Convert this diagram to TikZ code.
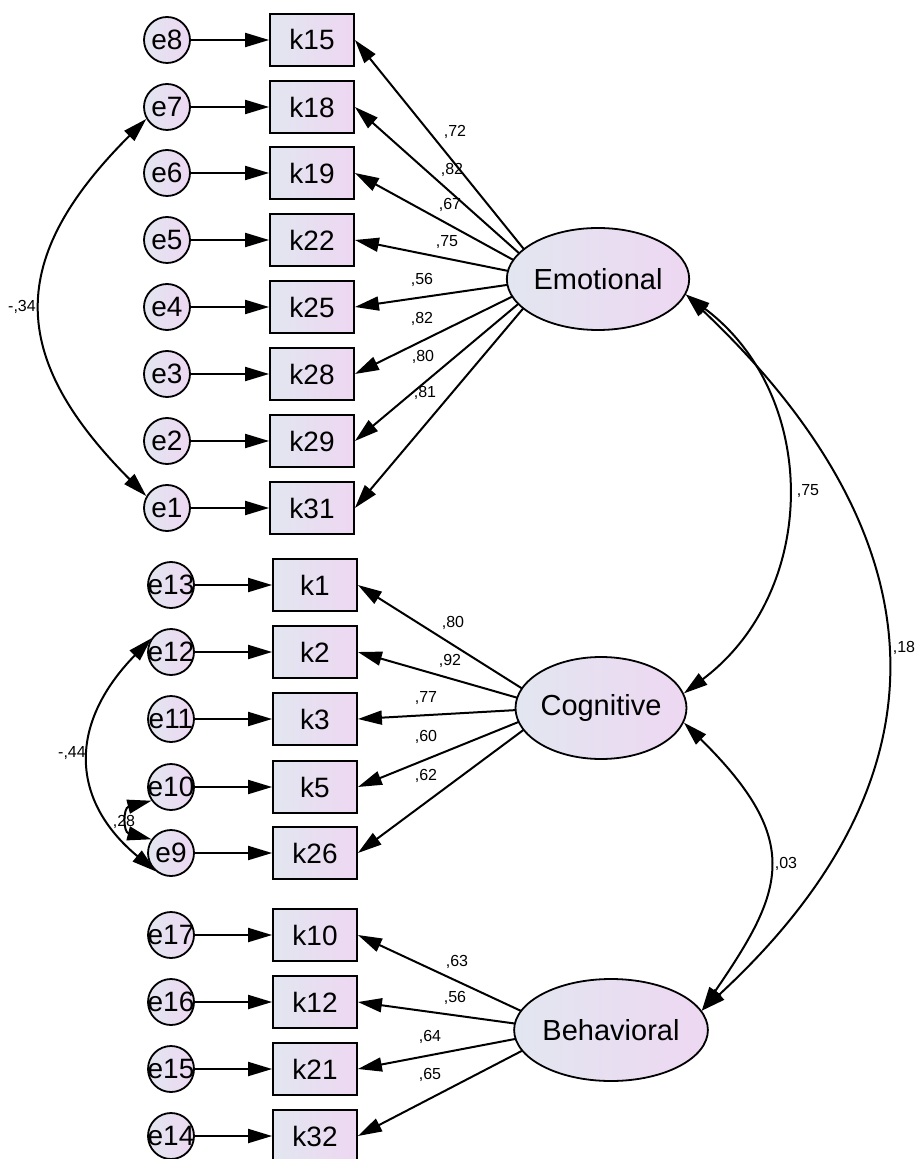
\documentclass[tikz,border=0pt]{standalone}
\usepackage{fontspec}
\setmainfont{Liberation Sans}
\usetikzlibrary{arrows.meta,shapes.geometric}
\definecolor{gl}{RGB}{226,230,240}
\definecolor{gr}{RGB}{238,215,242}
\begin{document}
\begin{tikzpicture}[x=0.5pt,y=-0.5pt,
  >={Triangle[length=12pt,width=7pt]},
  errc/.style={circle, draw, line width=0.9pt, minimum size=23pt, inner sep=0pt,
    left color=gl, right color=gr, font=\fontsize{14}{14}\selectfont},
  obs/.style={rectangle, draw, line width=0.9pt, minimum width=42pt, minimum height=26pt,
    inner sep=0pt, left color=gl, right color=gr, font=\fontsize{14}{14}\selectfont},
  lat/.style={ellipse, draw, line width=0.9pt, minimum width=84pt, minimum height=51pt,
    inner sep=0pt, left color=gl, right color=gr, font=\fontsize{14.5}{15}\selectfont},
  hub/.style={circle, minimum size=32pt, inner sep=0pt},
  lbl/.style={font=\fontsize{8}{9}\selectfont, inner sep=0pt},
  pth/.style={->, line width=1pt},
  cov/.style={<->, line width=1pt}]
\useasboundingbox (0,0) rectangle (917,1159);
\fill[white] (0,0) rectangle (917,1159);
% hidden hubs where loading paths leave the latent variables
\node[hub] (Eh) at (548,279) {};
\node[hub] (Ch) at (553,708) {};
\node[hub] (Bh) at (562,1030) {};
% Emotional indicators
\foreach \e/\k/\y in {e8/k15/40, e7/k18/107, e6/k19/173, e5/k22/240, e4/k25/307, e3/k28/374, e2/k29/441, e1/k31/508}{
  \node[errc] (\e) at (167,\y) {\makebox[0pt]{\e}};
  \node[obs] (\k) at (312,\y) {\k};
  \draw[pth] (\e) -- (\k);
}
% Cognitive indicators
\foreach \e/\k/\y in {e13/k1/585, e12/k2/652, e11/k3/719, e10/k5/787, e9/k26/853}{
  \node[errc] (\e) at (171,\y) {\makebox[0pt]{\e}};
  \node[obs] (\k) at (315,\y) {\k};
  \draw[pth] (\e) -- (\k);
}
% Behavioral indicators
\foreach \e/\k/\y in {e17/k10/935, e16/k12/1002, e15/k21/1069, e14/k32/1136}{
  \node[errc] (\e) at (171,\y) {\makebox[0pt]{\e}};
  \node[obs] (\k) at (315,\y) {\k};
  \draw[pth] (\e) -- (\k);
}
% loadings
\foreach \k/\v/\lx/\ly in {k15/72/455/132, k18/82/452/170, k19/67/450/205, k22/75/447/242,
  k25/56/422/280, k28/82/422/319, k29/80/423/357, k31/81/425/393}{
  \draw[pth] (Eh) -- (\k.east);
  \node[lbl] (l\k) at (\lx,\ly) {,\v};
}
\foreach \k/\v/\lx/\ly in {k1/80/453/623, k2/92/450/661, k3/77/426/698, k5/60/426/737, k26/62/426/776}{
  \draw[pth] (Ch) -- (\k.east);
  \node[lbl] (l\k) at (\lx,\ly) {,\v};
}
\foreach \k/\v/\lx/\ly in {k10/63/457/962, k12/56/455/998, k21/64/430/1037, k32/65/430/1075}{
  \draw[pth] (Bh) -- (\k.east);
  \node[lbl] (l\k) at (\lx,\ly) {,\v};
}
% latent variables (drawn over the path ends)
\node[lat] (E) at (598,279) {Emotional};
\node[lat] (C) at (601,708) {Cognitive};
\node[lat] (B) at (611,1030) {Behavioral};
% error covariances
\draw[cov] (e1.150) .. controls (7,356) and (7,258) .. (e7.210);
\node[lbl] (c71) at (22,307) {-,34};
\draw[cov] (e12.145) .. controls (67,725) and (71,801) .. (e9.230);
\node[lbl] (c129) at (72,753) {-,44};
\draw[cov] (e10.215) .. controls (123,808) and (123,832) .. (e9.145);
\node[lbl] (c109) at (124,822) {,28};
% latent covariances
\draw[cov] (E.-10) .. controls (820,395) and (820,591) .. (C.10);
\node[lbl] (cEC) at (808,491) {,75};
\draw[cov] (C.-10) .. controls (805,842) and (783,892) .. (B.12);
\node[lbl] (cCB) at (786,864) {,03};
\draw[cov] (E.-10) .. controls (945,540) and (955,777) .. (B.12);
\node[lbl] (cEB) at (904,648) {,18};
\end{tikzpicture}
\end{document}
